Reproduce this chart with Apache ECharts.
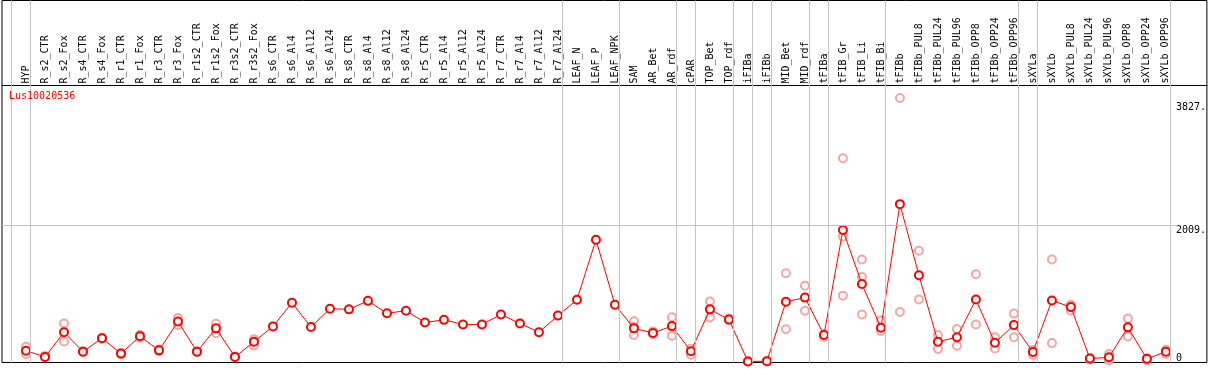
<!DOCTYPE html>
<html>
<head>
<meta charset="utf-8">
<script src="https://cdn.jsdelivr.net/npm/echarts@6/dist/echarts.min.js"></script>
<style>html,body{margin:0;padding:0;background:#fff}#c{width:1209px;height:370px}</style>
</head>
<body>
<div id="c"></div>
<script>
const title = 'Lus10020536';
const categories = ['HYP','R_s2_CTR','R_s2_Fox','R_s4_CTR','R_s4_Fox','R_r1_CTR','R_r1_Fox','R_r3_CTR','R_r3_Fox','R_r1s2_CTR','R_r1s2_Fox','R_r3s2_CTR','R_r3s2_Fox','R_s6_CTR','R_s6_Al4','R_s6_Al12','R_s6_Al24','R_s8_CTR','R_s8_Al4','R_s8_Al12','R_s8_Al24','R_r5_CTR','R_r5_Al4','R_r5_Al12','R_r5_Al24','R_r7_CTR','R_r7_Al4','R_r7_Al12','R_r7_Al24','LEAF_N','LEAF_P','LEAF_NPK','SAM','AR_Bet','AR_rdf','cPAR','TOP_Bet','TOP_rdf','iFIBa','iFIBb','MID_Bet','MID_rdf','tFIBa','tFIB_Gr','tFIB_Li','tFIB_Bi','tFIBb','tFIBb_PUL8','tFIBb_PUL24','tFIBb_PUL96','tFIBb_OPP8','tFIBb_OPP24','tFIBb_OPP96','sXYLa','sXYLb','sXYLb_PUL8','sXYLb_PUL24','sXYLb_PUL96','sXYLb_OPP8','sXYLb_OPP24','sXYLb_OPP96'];
const meanValues = [159,68,430,145,343,116,372,164,589,145,488,68,290,517,864,507,778,768,893,710,748,575,613,546,546,691,560,430,676,908,1792,836,488,420,521,150,768,618,0,5,879,941,391,1936,1140,497,2317,1270,290,358,912,275,536,140,898,801,43,62,503,39,145];
const repA = [217,80,560,150,350,125,395,175,642,150,555,72,329,null,null,null,null,null,null,null,null,null,null,null,null,null,null,null,null,null,null,null,594,440,652,188,884,633,0,5,1299,1115,400,2993,1502,604,3880,1632,391,478,1284,358,705,171,1502,836,50,111,633,45,174];
const repB = [111,60,294,140,336,110,350,155,536,140,415,64,236,null,null,null,null,null,null,null,null,null,null,null,null,null,null,null,null,null,null,null,391,400,381,101,647,605,0,0,474,748,362,970,691,449,729,912,184,232,546,193,358,101,271,748,25,14,367,20,111];
const repC = [null,null,null,null,null,null,null,null,null,null,null,null,null,null,null,null,null,null,null,null,null,null,null,null,null,null,null,null,null,null,null,null,511,null,null,null,null,null,null,null,null,null,null,1839,1246,null,null,null,null,null,null,null,null,null,null,null,null,null,null,null,null];
const groupEnds = [-1,0,28,31,34,35,37,38,39,41,42,45,52,53,60];
const yTicks = [0, 2009, 3827];
const gridValue = 2009;

const toPts = arr => arr.map((v,i)=> v==null ? null : [i, v]).filter(p=>p);
const repPts = [].concat(toPts(repA), toPts(repB), toPts(repC));
const mono = 'DejaVu Sans Mono';

const chart = echarts.init(document.getElementById('c'), null, {renderer:'canvas'});
chart.setOption({
  animation: false,
  backgroundColor: '#ffffff',
  title: {text: title, left: 9, top: 91, padding: 0,
    textStyle: {color: '#ff0000', fontFamily: mono, fontSize: 10, fontWeight: 'normal'}},
  grid: {left: 2, right: 2, top: 0.5, bottom: 2, show: true, borderColor: '#000', borderWidth: 1, backgroundColor: 'transparent'},
  xAxis: {
    type: 'value', position: 'top', offset: -85,
    min: -1.263, max: 62.158,
    axisLine: {show: true, onZero: false, lineStyle: {color: '#000', width: 1}},
    axisTick: {show: false}, splitLine: {show: false},
    axisLabel: {
      customValues: categories.map((c,i)=>i),
      formatter: v => categories[Math.round(v)] || '',
      rotate: -90, margin: 2, color: '#000', fontFamily: mono, fontSize: 10, hideOverlap: false
    }
  },
  yAxis: {
    type: 'value', position: 'right', min: -14.48, max: 5315.8,
    axisLine: {show: false}, axisTick: {show: false}, splitLine: {show: false},
    axisLabel: {
      customValues: yTicks, inside: true, align: 'left', margin: 31, verticalAlign: 'middle',
      formatter: v => v === 0 ? '{z|0}' : (v === yTicks[2] ? '{t|' + v + '.}' : '{m|' + v + '.}'),
      rich: {
        z: {fontFamily: mono, fontSize: 10, color: '#000', padding: [0,0,7,0], lineHeight: 12},
        m: {fontFamily: mono, fontSize: 10, color: '#000', padding: [10,0,0,0], lineHeight: 12},
        t: {fontFamily: mono, fontSize: 10, color: '#000', padding: [12,0,0,0], lineHeight: 12}
      }
    }
  },
  series: [
    {
      type: 'scatter', z: 2, data: repPts,
      symbol: 'emptyCircle', symbolSize: 8,
      itemStyle: {color: '#f09090', borderColor: '#f09090', borderWidth: 1.2},
      markLine: {
        silent: true, symbol: 'none', label: {show: false},
        lineStyle: {color: '#c4c4c4', width: 1, type: 'solid'},
        data: groupEnds.map(g => ({xAxis: g + 0.24})).concat([
          [{coord: [-1.263, gridValue]}, {coord: [60.6, gridValue]}]
        ])
      }
    },
    {
      type: 'line', z: 3, data: toPts(meanValues),
      symbol: 'emptyCircle', symbolSize: 8,
      lineStyle: {color: '#ff0000', width: 1},
      itemStyle: {color: '#ff0000', borderColor: '#ff0000', borderWidth: 1.6}
    }
  ]
});
</script>
</body>
</html>
